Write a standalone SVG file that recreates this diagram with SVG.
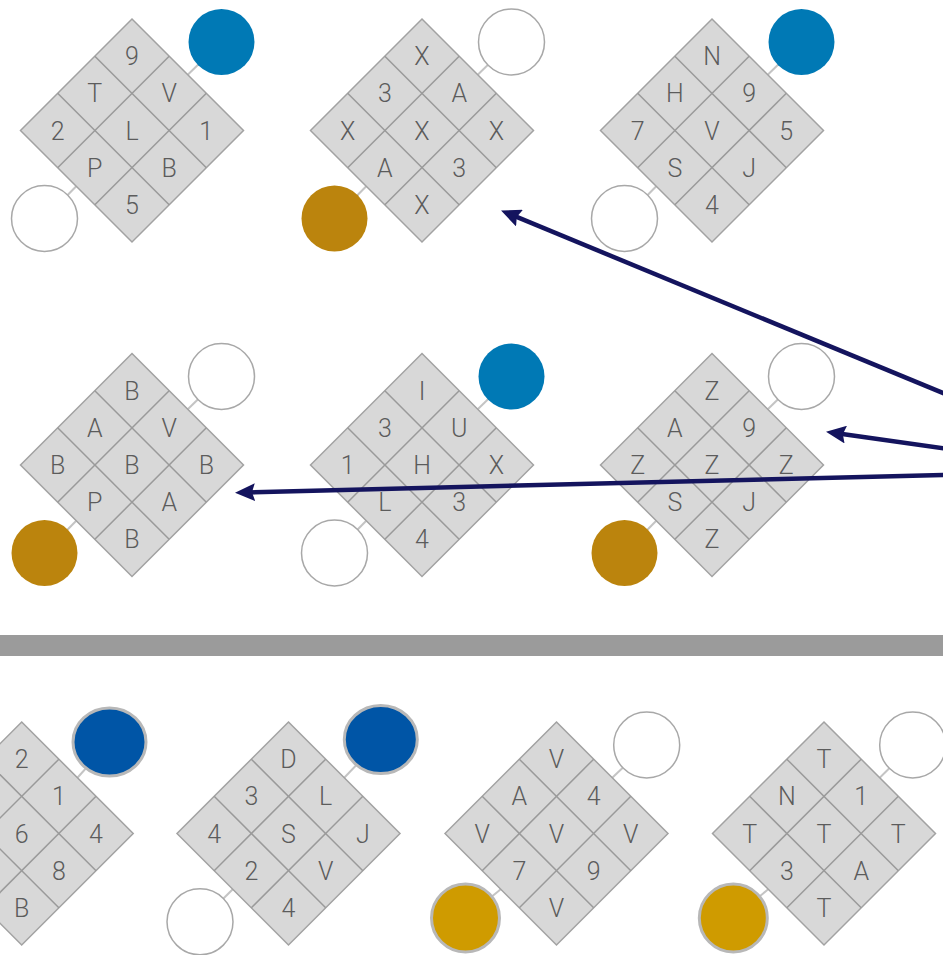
<svg xmlns="http://www.w3.org/2000/svg" xmlns:xlink="http://www.w3.org/1999/xlink" width="943" height="955" viewBox="0 0 943 955">
<style>
.dia{fill:#d8d8d8;stroke:#a2a2a2;stroke-width:1.5}
.gl{stroke:#9a9a9a;stroke-width:1.5}
.stub{stroke:#c4c4c4;stroke-width:2}
.w{fill:#ffffff;stroke:#a8a8a8;stroke-width:1.5}
.b1{fill:#0079b5}
.g1{fill:#bb840d}
.b3{fill:#0055a6;stroke:#b8b8b8;stroke-width:3}
.g3{fill:#cf9b00;stroke:#b8b8b8;stroke-width:3}
.t{font-family:Roboto,"Liberation Sans",sans-serif;font-weight:300;font-size:25px;fill:#5c5c5c;text-anchor:middle}
.arr{stroke:#14145e;stroke-width:4.5;fill:none}
</style>
<defs>
<g id="grid">
<polygon class="dia" points="0,-111.5 111.5,0 0,111.5 -111.5,0"/>
<line class="gl" x1="-74.33" y1="-37.17" x2="37.17" y2="74.33"/>
<line class="gl" x1="-37.17" y1="-74.33" x2="74.33" y2="37.17"/>
<line class="gl" x1="-74.33" y1="37.17" x2="37.17" y2="-74.33"/>
<line class="gl" x1="-37.17" y1="74.33" x2="74.33" y2="-37.17"/>
</g>
<marker id="ah" markerUnits="userSpaceOnUse" markerWidth="20" markerHeight="18" viewBox="0 0 20 18" refX="9" refY="9" orient="auto">
<path d="M0,0 L20,9 L0,18 L3,9 Z" fill="#14145e"/>
</marker>
</defs>
<rect x="0" y="0" width="943" height="955" fill="#ffffff"/>
<rect id="divider" x="0" y="635" width="943" height="21" fill="#9b9b9b"/>

<g id="node-r1c1" transform="translate(132,130.5)">
<line class="stub" x1="55.75" y1="-55.75" x2="89.5" y2="-88.5"/>
<line class="stub" x1="-55.75" y1="55.75" x2="-87.5" y2="88"/>
<use xlink:href="#grid"/>
<circle class="b1" cx="89.5" cy="-88.5" r="33"/>
<circle class="w" cx="-87.5" cy="88" r="33"/>
<text class="t" x="0" y="-65.3">9</text>
<text class="t" x="-37.2" y="-28.2">T</text>
<text class="t" x="37.2" y="-28.2">V</text>
<text class="t" x="-74.3" y="9">2</text>
<text class="t" x="0" y="9">L</text>
<text class="t" x="74.3" y="9">1</text>
<text class="t" x="-37.2" y="46.2">P</text>
<text class="t" x="37.2" y="46.2">B</text>
<text class="t" x="0" y="83.3">5</text>
</g>

<g id="node-r1c2" transform="translate(422,130.5)">
<line class="stub" x1="55.75" y1="-55.75" x2="89.5" y2="-88.5"/>
<line class="stub" x1="-55.75" y1="55.75" x2="-87.5" y2="88"/>
<use xlink:href="#grid"/>
<circle class="w" cx="89.5" cy="-88.5" r="33"/>
<circle class="g1" cx="-87.5" cy="88" r="33"/>
<text class="t" x="0" y="-65.3">X</text>
<text class="t" x="-37.2" y="-28.2">3</text>
<text class="t" x="37.2" y="-28.2">A</text>
<text class="t" x="-74.3" y="9">X</text>
<text class="t" x="0" y="9">X</text>
<text class="t" x="74.3" y="9">X</text>
<text class="t" x="-37.2" y="46.2">A</text>
<text class="t" x="37.2" y="46.2">3</text>
<text class="t" x="0" y="83.3">X</text>
</g>

<g id="node-r1c3" transform="translate(712,130.5)">
<line class="stub" x1="55.75" y1="-55.75" x2="89.5" y2="-88.5"/>
<line class="stub" x1="-55.75" y1="55.75" x2="-87.5" y2="88"/>
<use xlink:href="#grid"/>
<circle class="b1" cx="89.5" cy="-88.5" r="33"/>
<circle class="w" cx="-87.5" cy="88" r="33"/>
<text class="t" x="0" y="-65.3">N</text>
<text class="t" x="-37.2" y="-28.2">H</text>
<text class="t" x="37.2" y="-28.2">9</text>
<text class="t" x="-74.3" y="9">7</text>
<text class="t" x="0" y="9">V</text>
<text class="t" x="74.3" y="9">5</text>
<text class="t" x="-37.2" y="46.2">S</text>
<text class="t" x="37.2" y="46.2">J</text>
<text class="t" x="0" y="83.3">4</text>
</g>

<g id="node-r2c1" transform="translate(132,465)">
<line class="stub" x1="55.75" y1="-55.75" x2="89.5" y2="-88.5"/>
<line class="stub" x1="-55.75" y1="55.75" x2="-87.5" y2="88"/>
<use xlink:href="#grid"/>
<circle class="w" cx="89.5" cy="-88.5" r="33"/>
<circle class="g1" cx="-87.5" cy="88" r="33"/>
<text class="t" x="0" y="-65.3">B</text>
<text class="t" x="-37.2" y="-28.2">A</text>
<text class="t" x="37.2" y="-28.2">V</text>
<text class="t" x="-74.3" y="9">B</text>
<text class="t" x="0" y="9">B</text>
<text class="t" x="74.3" y="9">B</text>
<text class="t" x="-37.2" y="46.2">P</text>
<text class="t" x="37.2" y="46.2">A</text>
<text class="t" x="0" y="83.3">B</text>
</g>

<g id="node-r2c2" transform="translate(422,465)">
<line class="stub" x1="55.75" y1="-55.75" x2="89.5" y2="-88.5"/>
<line class="stub" x1="-55.75" y1="55.75" x2="-87.5" y2="88"/>
<use xlink:href="#grid"/>
<circle class="b1" cx="89.5" cy="-88.5" r="33"/>
<circle class="w" cx="-87.5" cy="88" r="33"/>
<text class="t" x="0" y="-65.3">I</text>
<text class="t" x="-37.2" y="-28.2">3</text>
<text class="t" x="37.2" y="-28.2">U</text>
<text class="t" x="-74.3" y="9">1</text>
<text class="t" x="0" y="9">H</text>
<text class="t" x="74.3" y="9">X</text>
<text class="t" x="-37.2" y="46.2">L</text>
<text class="t" x="37.2" y="46.2">3</text>
<text class="t" x="0" y="83.3">4</text>
</g>

<g id="node-r2c3" transform="translate(712,465)">
<line class="stub" x1="55.75" y1="-55.75" x2="89.5" y2="-88.5"/>
<line class="stub" x1="-55.75" y1="55.75" x2="-87.5" y2="88"/>
<use xlink:href="#grid"/>
<circle class="w" cx="89.5" cy="-88.5" r="33"/>
<circle class="g1" cx="-87.5" cy="88" r="33"/>
<text class="t" x="0" y="-65.3">Z</text>
<text class="t" x="-37.2" y="-28.2">A</text>
<text class="t" x="37.2" y="-28.2">9</text>
<text class="t" x="-74.3" y="9">Z</text>
<text class="t" x="0" y="9">Z</text>
<text class="t" x="74.3" y="9">Z</text>
<text class="t" x="-37.2" y="46.2">S</text>
<text class="t" x="37.2" y="46.2">J</text>
<text class="t" x="0" y="83.3">Z</text>
</g>

<g id="node-r3c1" transform="translate(21.7,833.5)">
<line class="stub" x1="55.75" y1="-55.75" x2="87.8" y2="-91.5"/>
<use xlink:href="#grid"/>
<ellipse class="b3" cx="87.8" cy="-91.5" rx="36.5" ry="34"/>
<text class="t" x="0" y="-65.3">2</text>
<text class="t" x="37.2" y="-28.2">1</text>
<text class="t" x="0" y="9">6</text>
<text class="t" x="74.3" y="9">4</text>
<text class="t" x="37.2" y="46.2">8</text>
<text class="t" x="0" y="83.3">B</text>
</g>

<g id="node-r3c2" transform="translate(288.5,833.5)">
<line class="stub" x1="55.75" y1="-55.75" x2="92.3" y2="-94"/>
<line class="stub" x1="-55.75" y1="55.75" x2="-88.5" y2="88.3"/>
<use xlink:href="#grid"/>
<ellipse class="b3" cx="92.3" cy="-94" rx="36.5" ry="34"/>
<circle class="w" cx="-88.5" cy="88.3" r="33"/>
<text class="t" x="0" y="-65.3">D</text>
<text class="t" x="-37.2" y="-28.2">3</text>
<text class="t" x="37.2" y="-28.2">L</text>
<text class="t" x="-74.3" y="9">4</text>
<text class="t" x="0" y="9">S</text>
<text class="t" x="74.3" y="9">J</text>
<text class="t" x="-37.2" y="46.2">2</text>
<text class="t" x="37.2" y="46.2">V</text>
<text class="t" x="0" y="83.3">4</text>
</g>

<g id="node-r3c3" transform="translate(556.5,833.5)">
<line class="stub" x1="55.75" y1="-55.75" x2="90.2" y2="-88.5"/>
<line class="stub" x1="-55.75" y1="55.75" x2="-91" y2="84.5"/>
<use xlink:href="#grid"/>
<circle class="w" cx="90.2" cy="-88.5" r="33"/>
<circle class="g3" cx="-91" cy="84.5" r="34"/>
<text class="t" x="0" y="-65.3">V</text>
<text class="t" x="-37.2" y="-28.2">A</text>
<text class="t" x="37.2" y="-28.2">4</text>
<text class="t" x="-74.3" y="9">V</text>
<text class="t" x="0" y="9">V</text>
<text class="t" x="74.3" y="9">V</text>
<text class="t" x="-37.2" y="46.2">7</text>
<text class="t" x="37.2" y="46.2">9</text>
<text class="t" x="0" y="83.3">V</text>
</g>

<g id="node-r3c4" transform="translate(824,833.5)">
<line class="stub" x1="55.75" y1="-55.75" x2="88.7" y2="-88.5"/>
<line class="stub" x1="-55.75" y1="55.75" x2="-90.7" y2="84.5"/>
<use xlink:href="#grid"/>
<circle class="w" cx="88.7" cy="-88.5" r="33"/>
<circle class="g3" cx="-90.7" cy="84.5" r="34"/>
<text class="t" x="0" y="-65.3">T</text>
<text class="t" x="-37.2" y="-28.2">N</text>
<text class="t" x="37.2" y="-28.2">1</text>
<text class="t" x="-74.3" y="9">T</text>
<text class="t" x="0" y="9">T</text>
<text class="t" x="74.3" y="9">T</text>
<text class="t" x="-37.2" y="46.2">3</text>
<text class="t" x="37.2" y="46.2">A</text>
<text class="t" x="0" y="83.3">T</text>
</g>

<g id="connectors">
<line class="arr" x1="950" y1="395.9" x2="511.2" y2="214.7" marker-end="url(#ah)"/>
<line class="arr" x1="950" y1="449.3" x2="836.9" y2="433.3" marker-end="url(#ah)"/>
<line class="arr" x1="950" y1="474.8" x2="246" y2="492.4" marker-end="url(#ah)"/>
</g>
</svg>
